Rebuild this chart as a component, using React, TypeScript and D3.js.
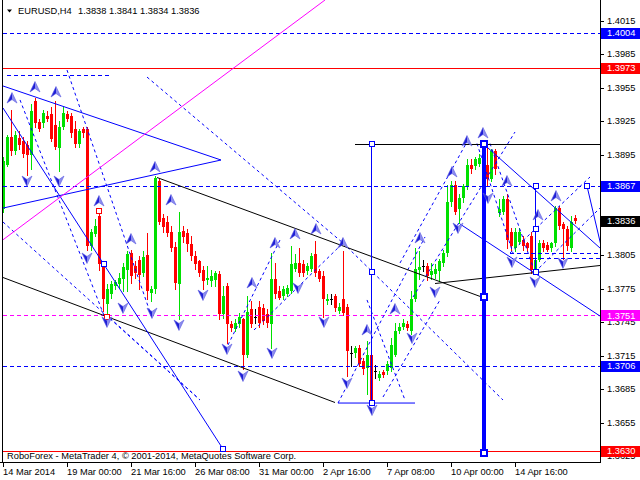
import React from 'react';
import * as d3 from 'd3';

// EURUSD H4 bars, oldest first (bar 0 = 14 Mar 08:00)
const opens = [
  1.3846, 1.3886, 1.3911, 1.3898, 1.3910, 1.3907, 1.3904, 1.3895, 1.3943, 1.3924,
  1.3923, 1.3930, 1.3931, 1.3922, 1.3901, 1.3920, 1.3931, 1.3930, 1.3918, 1.3905,
  1.3918, 1.3918, 1.3813, 1.3824, 1.3840, 1.3797, 1.3761, 1.3770, 1.3777, 1.3779,
  1.3784, 1.3792, 1.3807, 1.3795, 1.3801, 1.3789, 1.3805, 1.3771, 1.3775, 1.3871,
  1.3838, 1.3835, 1.3826, 1.3812, 1.3779, 1.3827, 1.3825, 1.3815, 1.3804, 1.3800,
  1.3792, 1.3783, 1.3782, 1.3783, 1.3788, 1.3752, 1.3777, 1.3743, 1.3739, 1.3743,
  1.3748, 1.3716, 1.3757, 1.3750, 1.3759, 1.3758, 1.3752, 1.3743, 1.3784, 1.3773,
  1.3768, 1.3770, 1.3773, 1.3793, 1.3798, 1.3797, 1.3791, 1.3793, 1.3806, 1.3791,
  1.3786, 1.3764, 1.3766, 1.3768, 1.3755, 1.3766, 1.3759, 1.3717, 1.3717, 1.3722,
  1.3710, 1.3704, 1.3716, 1.3701, 1.3695, 1.3700, 1.3701, 1.3704, 1.3716, 1.3737,
  1.3741, 1.3743, 1.3737, 1.3766, 1.3792, 1.3795, 1.3795, 1.3787, 1.3788, 1.3791,
  1.3798, 1.3807, 1.3853, 1.3868, 1.3846, 1.3856, 1.3867, 1.3886, 1.3885, 1.3887,
  1.3891, 1.3886, 1.3873, 1.3898, 1.3843, 1.3844, 1.3855, 1.3826, 1.3811, 1.3817,
  1.3819, 1.3816, 1.3822, 1.3792, 1.3801, 1.3816, 1.3814, 1.3811, 1.3816, 1.3847,
  1.3833, 1.3828, 1.3811, 1.3838,
];
const highs = [
  1.3893, 1.3913, 1.3935, 1.3916, 1.3916, 1.3911, 1.3907, 1.3940, 1.3946, 1.3927,
  1.3935, 1.3934, 1.3938, 1.3943, 1.3925, 1.3938, 1.3934, 1.3932, 1.3925, 1.3918,
  1.3920, 1.3920, 1.3828, 1.3837, 1.3844, 1.3798, 1.3779, 1.3782, 1.3783, 1.3789,
  1.3798, 1.3809, 1.3810, 1.3800, 1.3804, 1.3809, 1.3825, 1.3777, 1.3876, 1.3873,
  1.3842, 1.3840, 1.3831, 1.3817, 1.3844, 1.3831, 1.3828, 1.3822, 1.3809, 1.3801,
  1.3795, 1.3795, 1.3792, 1.3791, 1.3791, 1.3777, 1.3780, 1.3746, 1.3748, 1.3753,
  1.3749, 1.3768, 1.3764, 1.3757, 1.3764, 1.3761, 1.3757, 1.3807, 1.3798, 1.3777,
  1.3777, 1.3778, 1.3813, 1.3806, 1.3811, 1.3801, 1.3798, 1.3807, 1.3818, 1.3793,
  1.3791, 1.3770, 1.3770, 1.3770, 1.3762, 1.3809, 1.3761, 1.3724, 1.3724, 1.3725,
  1.3713, 1.3728, 1.3724, 1.3707, 1.3701, 1.3702, 1.3710, 1.3731, 1.3744, 1.3744,
  1.3748, 1.3746, 1.3773, 1.3811, 1.3809, 1.3801, 1.3798, 1.3798, 1.3797, 1.3802,
  1.3810, 1.3868, 1.3871, 1.3871, 1.3860, 1.3869, 1.3891, 1.3891, 1.3893, 1.3896,
  1.3905, 1.3901, 1.3900, 1.3900, 1.3855, 1.3858, 1.3860, 1.3829, 1.3829, 1.3829,
  1.3822, 1.3817, 1.3826, 1.3804, 1.3819, 1.3819, 1.3817, 1.3817, 1.3849, 1.3849,
  1.3835, 1.3831, 1.3840, 1.3841,
];
const lows = [
  1.3844, 1.3885, 1.3895, 1.3896, 1.3900, 1.3893, 1.3877, 1.3882, 1.3920, 1.3916,
  1.3920, 1.3925, 1.3907, 1.3900, 1.3880, 1.3918, 1.3925, 1.3911, 1.3902, 1.3902,
  1.3911, 1.3810, 1.3810, 1.3822, 1.3792, 1.3755, 1.3749, 1.3767, 1.3775, 1.3776,
  1.3773, 1.3773, 1.3780, 1.3785, 1.3775, 1.3786, 1.3766, 1.3764, 1.3771, 1.3833,
  1.3826, 1.3822, 1.3809, 1.3775, 1.3748, 1.3817, 1.3809, 1.3801, 1.3793, 1.3786,
  1.3775, 1.3779, 1.3777, 1.3777, 1.3748, 1.3749, 1.3726, 1.3737, 1.3737, 1.3741,
  1.3703, 1.3714, 1.3741, 1.3744, 1.3741, 1.3743, 1.3741, 1.3722, 1.3767, 1.3766,
  1.3766, 1.3768, 1.3771, 1.3791, 1.3786, 1.3786, 1.3788, 1.3791, 1.3786, 1.3782,
  1.3750, 1.3761, 1.3761, 1.3755, 1.3753, 1.3751, 1.3697, 1.3706, 1.3714, 1.3706,
  1.3699, 1.3681, 1.3672, 1.3695, 1.3693, 1.3696, 1.3699, 1.3701, 1.3715, 1.3735,
  1.3739, 1.3738, 1.3734, 1.3764, 1.3784, 1.3791, 1.3783, 1.3784, 1.3785, 1.3782,
  1.3795, 1.3804, 1.3849, 1.3842, 1.3834, 1.3853, 1.3864, 1.3879, 1.3882, 1.3885,
  1.3880, 1.3867, 1.3871, 1.3878, 1.3840, 1.3842, 1.3811, 1.3810, 1.3809, 1.3815,
  1.3810, 1.3809, 1.3789, 1.3789, 1.3800, 1.3809, 1.3809, 1.3809, 1.3813, 1.3828,
  1.3802, 1.3810, 1.3809, 1.3834,
];
const closes = [
  1.3889, 1.3911, 1.3898, 1.3913, 1.3904, 1.3896, 1.3895, 1.3934, 1.3923, 1.3918,
  1.3932, 1.3927, 1.3909, 1.3902, 1.3920, 1.3932, 1.3927, 1.3914, 1.3905, 1.3916,
  1.3914, 1.3813, 1.3826, 1.3831, 1.3797, 1.3766, 1.3775, 1.3779, 1.3781, 1.3785,
  1.3794, 1.3806, 1.3786, 1.3789, 1.3787, 1.3803, 1.3773, 1.3775, 1.3874, 1.3835,
  1.3830, 1.3825, 1.3811, 1.3780, 1.3826, 1.3821, 1.3815, 1.3804, 1.3797, 1.3789,
  1.3782, 1.3785, 1.3786, 1.3789, 1.3752, 1.3768, 1.3743, 1.3740, 1.3744, 1.3750,
  1.3716, 1.3754, 1.3743, 1.3750, 1.3744, 1.3746, 1.3744, 1.3784, 1.3770, 1.3767,
  1.3775, 1.3776, 1.3797, 1.3798, 1.3789, 1.3789, 1.3795, 1.3804, 1.3789, 1.3784,
  1.3766, 1.3766, 1.3766, 1.3758, 1.3759, 1.3753, 1.3719, 1.3717, 1.3722, 1.3708,
  1.3703, 1.3716, 1.3674, 1.3701, 1.3699, 1.3698, 1.3708, 1.3725, 1.3737, 1.3741,
  1.3744, 1.3740, 1.3766, 1.3793, 1.3794, 1.3795, 1.3786, 1.3791, 1.3793, 1.3800,
  1.3807, 1.3853, 1.3868, 1.3844, 1.3856, 1.3867, 1.3886, 1.3882, 1.3891, 1.3892,
  1.3884, 1.3873, 1.3898, 1.3882, 1.3846, 1.3855, 1.3819, 1.3813, 1.3826, 1.3826,
  1.3813, 1.3811, 1.3792, 1.3801, 1.3816, 1.3811, 1.3810, 1.3816, 1.3847, 1.3831,
  1.3828, 1.3813, 1.3835, 1.3836,
];

const timeLabels = [
  '14 Mar 2014', '19 Mar 00:00', '21 Mar 16:00', '26 Mar 08:00', '31 Mar 00:00',
  '2 Apr 16:00', '7 Apr 08:00', '10 Apr 00:00', '14 Apr 16:00',
];
const priceTicks = [
  1.4015, 1.3985, 1.3955, 1.3925, 1.3895, 1.3865, 1.3835, 1.3805, 1.3775,
  1.3745, 1.3715, 1.3685, 1.3655, 1.3625,
];

// horizontal price levels
const levelPrices = [1.4004, 1.3973, 1.3867, 1.3751, 1.3706, 1.3630];
const levelKinds = ['blue', 'red', 'blue', 'magenta', 'blue', 'red'];

// trend objects as [bar1, price1, bar2, price2]
const blueLines = [
  [0, 1.39565, 54.5, 1.38902],
  [0, 1.38472, 54.5, 1.38902],
  [0, 1.39368, 55, 1.36314],
  [120, 1.3905, 149.25, 1.38114],
  [114.25, 1.38329, 149.25, 1.37505],
  [146, 1.38669, 149.75, 1.38096],
  [83.75, 1.36726, 103, 1.36726],
];
const blackLines = [
  [38.5, 1.3875, 120, 1.37675],
  [0, 1.37854, 83, 1.36735],
  [108, 1.37801, 149.25, 1.37962],
  [88, 1.3905, 149.25, 1.3905],
];
const magentaLines = [[-0.75, 1.38168, 80.5, 1.40335]];
const dotLines = [
  [16, 1.39708, 36.75, 1.37541],
  [4.25, 1.3944, 25.5, 1.37487],
  [0, 1.38347, 49.25, 1.36753],
  [26.75, 1.37487, 48.75, 1.36771],
  [36, 1.39645, 85, 1.38159],
  [85, 1.38159, 125, 1.36753],
  [56.25, 1.37246, 69.25, 1.38186],
  [62.75, 1.3738, 85, 1.38159],
  [83.75, 1.36726, 105.5, 1.38213],
  [95, 1.3678, 109.25, 1.37649],
  [91, 1.37649, 100.5, 1.36753],
  [102.5, 1.37675, 128, 1.39153],
  [99.25, 1.3798, 116.25, 1.39081],
  [118.5, 1.3905, 127.5, 1.38069],
  [121.75, 1.3905, 132.5, 1.37944],
  [126.75, 1.38069, 146.75, 1.3875],
  [133, 1.37899, 149.25, 1.38472],
];
// dashed horizontal segments [bar1, bar2, price]
const dashSegments = [
  [1, 27.25, 1.39663],
  [126.75, 149.25, 1.38069],
  [129, 149.25, 1.38025],
];
// vertical objects [bar, price1, price2]
const thinVerticals = [
  [92.125, 1.3905, 1.36726],
  [133.125, 1.38669, 1.37899],
];
const thickVerticals = [[120.25, 1.3905, 1.36278]];
const blueAnchors = [
  [92.125, 1.3905], [92.125, 1.37899], [92.125, 1.36726],
  [133.125, 1.38669], [133.125, 1.38284], [133.125, 1.37899],
  [146, 1.38669], [25.25, 1.37971], [55, 1.36314],
];
const redAnchors = [[24, 1.38446], [26, 1.37496]];
const thickAnchors = [[120.25, 1.3905], [120.25, 1.37675], [120.25, 1.36278]];

// fractal arrows [bar, price]
const upArrows = [
  [2.25, 1.39457], [8, 1.39556], [13.25, 1.39511], [24, 1.38535], [32, 1.38195],
  [38, 1.3884], [42, 1.38544], [62.25, 1.37801], [68, 1.38159], [73, 1.3824],
  [78.25, 1.38284], [85, 1.38159], [91, 1.3738], [98, 1.37568], [104.25, 1.38204],
  [112.25, 1.38795], [116, 1.39072], [120, 1.39144], [126, 1.38714], [133.75, 1.3841],
  [138.25, 1.3858],
];
const downArrows = [
  [6, 1.38714], [14, 1.38714], [21, 1.38025], [26, 1.37452], [30, 1.37577],
  [37.25, 1.37532], [44, 1.37425], [50, 1.37693], [56, 1.3721], [60, 1.36968],
  [67.25, 1.37174], [73.75, 1.37756], [80.25, 1.37452], [86, 1.36905], [92.25, 1.36663],
  [102.25, 1.37308], [108, 1.3772], [113.75, 1.38293], [121.25, 1.38562], [127.25, 1.37989],
  [133, 1.3781], [140, 1.3798],
];

const FONT = "Tahoma, 'Liberation Sans', Arial, sans-serif";
const FS = 9.3;
const BLUE = '#0000ff';
const LEVEL_COLORS: Record<string, string> = { blue: BLUE, red: '#ff0000', magenta: '#ff00ff' };

const PLOT = { left: 3, right: 600, top: 0, bottom: 462 };

const x = d3.scaleLinear().domain([0, 143]).range([3, 575]);
const y = d3.scaleLinear().domain([1.36198, 1.40335]).range([462, 0]);

const crisp = (v: number) => Math.round(v) + 0.5;

const Arrow = ({ bx, py, up }: { bx: number; py: number; up: boolean }) => {
  const s = up ? 1 : -1;
  return (
    <g transform={`translate(${x(bx)},${y(py)}) scale(1,${s})`}>
      <path d="M0,-5.5 L-5,5 L0,1.5 Z" fill="#1f1fd6" />
      <path d="M0,-5.5 L5,5 L0,1.5 Z" fill="#8c8cee" />
      <path d="M0,-5.5 L-5,5 L0,1.5 L5,5 Z" fill="none" stroke="#5c5ce0" strokeWidth={0.6} />
    </g>
  );
};

export default function App() {
  const n = opens.length;
  const bars = d3.range(n).map((i) => {
    const cx = Math.round(x(i));
    const o = y(opens[i]);
    const c = y(closes[i]);
    const top = Math.round(Math.min(o, c));
    const bot = Math.round(Math.max(o, c));
    const col = closes[i] > opens[i] ? '#00e000' : closes[i] < opens[i] ? '#ff0000' : '#000000';
    return (
      <g key={i}>
        <line x1={cx + 0.5} x2={cx + 0.5} y1={Math.round(y(highs[i]))} y2={Math.round(y(lows[i])) + 1} stroke={col} />
        <rect x={cx - 1} y={top} width={3} height={Math.max(1, bot - top)} fill={col} />
      </g>
    );
  });

  const last = n - 1;
  const ohlc = [opens[last], highs[last], lows[last], closes[last]].map((v) => v.toFixed(4)).join(' ');

  // tick labels fully hidden under a price box are not drawn
  const boxed = [...levelPrices, closes[last]];
  const hidden = (p: number) => boxed.some((b) => Math.abs(y(b) - y(p)) < 3);

  return (
    <div style={{ position: 'absolute', left: 0, top: 0 }}>
      <svg width={640} height={480} style={{ display: 'block', background: '#fff' }} fontFamily={FONT}>
        <defs>
          <clipPath id="plotClip">
            <rect x={PLOT.left} y={PLOT.top} width={PLOT.right - PLOT.left} height={PLOT.bottom - PLOT.top} />
          </clipPath>
        </defs>
        <rect x={0} y={0} width={640} height={480} fill="#fff" />

        <g clipPath="url(#plotClip)">
          <g shapeRendering="crispEdges">{bars}</g>

          {levelPrices.map((p, i) => (
            <line key={i} x1={PLOT.left} x2={PLOT.right} y1={crisp(y(p))} y2={crisp(y(p))}
              stroke={LEVEL_COLORS[levelKinds[i]]} strokeDasharray={levelKinds[i] === 'red' ? undefined : '4 3'}
              shapeRendering="crispEdges" />
          ))}
          {dashSegments.map(([b1, b2, p], i) => (
            <line key={i} x1={x(b1)} x2={x(b2)} y1={crisp(y(p))} y2={crisp(y(p))} stroke={BLUE}
              strokeDasharray="4 3" shapeRendering="crispEdges" />
          ))}

          {dotLines.map(([b1, p1, b2, p2], i) => (
            <line key={i} x1={x(b1)} y1={y(p1)} x2={x(b2)} y2={y(p2)} stroke={BLUE} strokeDasharray="3 3" />
          ))}
          {blackLines.map(([b1, p1, b2, p2], i) => (
            <line key={i} x1={x(b1)} y1={crisp(y(p1))} x2={x(b2)} y2={crisp(y(p2))} stroke="#000" />
          ))}
          {blueLines.map(([b1, p1, b2, p2], i) => (
            <line key={i} x1={x(b1)} y1={y(p1)} x2={x(b2)} y2={y(p2)} stroke={BLUE} />
          ))}
          {magentaLines.map(([b1, p1, b2, p2], i) => (
            <line key={i} x1={x(b1)} y1={y(p1)} x2={x(b2)} y2={y(p2)} stroke="#ff00ff" />
          ))}

          {thinVerticals.map(([b, p1, p2], i) => (
            <line key={i} x1={x(b)} x2={x(b)} y1={y(p1)} y2={y(p2)} stroke={BLUE} shapeRendering="crispEdges" />
          ))}
          {thickVerticals.map(([b, p1, p2], i) => (
            <line key={i} x1={x(b)} x2={x(b)} y1={y(p1)} y2={y(p2)} stroke={BLUE} strokeWidth={4} shapeRendering="crispEdges" />
          ))}

          {blueAnchors.map(([b, p], i) => (
            <rect key={i} x={Math.round(x(b)) - 2.5} y={Math.round(y(p)) - 2.5} width={5} height={5}
              fill="#fff" stroke={BLUE} shapeRendering="crispEdges" />
          ))}
          {redAnchors.map(([b, p], i) => (
            <rect key={i} x={Math.round(x(b)) - 2.5} y={Math.round(y(p)) - 2.5} width={5} height={5}
              fill="#fff" stroke="#ff0000" shapeRendering="crispEdges" />
          ))}
          {thickAnchors.map(([b, p], i) => (
            <rect key={i} x={Math.round(x(b)) - 3} y={Math.round(y(p)) - 3} width={6} height={6}
              fill="#fff" stroke={BLUE} strokeWidth={2} shapeRendering="crispEdges" />
          ))}

          {upArrows.map(([b, p], i) => <Arrow key={'u' + i} bx={b} py={p} up />)}
          {downArrows.map(([b, p], i) => <Arrow key={'d' + i} bx={b} py={p} up={false} />)}
        </g>

        {/* frame */}
        <g shapeRendering="crispEdges" stroke="#000">
          <line x1={2.5} x2={2.5} y1={0} y2={PLOT.bottom} />
          <line x1={PLOT.right + 0.5} x2={PLOT.right + 0.5} y1={0} y2={PLOT.bottom + 0.5} />
          <line x1={0} x2={PLOT.right + 0.5} y1={PLOT.bottom + 0.5} y2={PLOT.bottom + 0.5} />
        </g>

        {/* price axis */}
        {priceTicks.map((p) => (
          <g key={p}>
            <line x1={601} x2={604} y1={crisp(y(p))} y2={crisp(y(p))} stroke="#000" shapeRendering="crispEdges" />
            {!hidden(p) && <text x={607} y={y(p) + 3.3} fontSize={FS} fill="#000">{p.toFixed(4)}</text>}
          </g>
        ))}
        {levelPrices.map((p, i) => (
          <g key={i}>
            <rect x={601} y={Math.round(y(p)) - 5} width={39} height={11} fill={LEVEL_COLORS[levelKinds[i]]} />
            <text x={607} y={y(p) + 3.3} fontSize={FS} fill="#fff">{p.toFixed(4)}</text>
          </g>
        ))}
        <rect x={601} y={Math.round(y(closes[last])) - 5} width={39} height={11} fill="#000" />
        <text x={607} y={y(closes[last]) + 3.3} fontSize={FS} fill="#fff">{closes[last].toFixed(4)}</text>

        {/* time axis */}
        {timeLabels.map((t, k) => {
          const tx = Math.round(x(k * 16));
          return (
            <g key={t}>
              <line x1={tx + 0.5} x2={tx + 0.5} y1={463} y2={467} stroke="#000" shapeRendering="crispEdges" />
              <text x={tx} y={475} fontSize={FS} fill="#000">{t}</text>
            </g>
          );
        })}

        {/* title */}
        <path d="M7,9.5 L12,9.5 L9.5,12.5 Z" fill="#000" />
        <text x={18} y={14} fontSize={FS} fill="#000">EURUSD,H4</text>
        <text x={78} y={14} fontSize={FS} fill="#000">{ohlc}</text>

        <text x={7} y={458.5} fontSize={FS} fill="#000">
          RoboForex - MetaTrader 4, © 2001-2014, MetaQuotes Software Corp.
        </text>
      </svg>
    </div>
  );
}
